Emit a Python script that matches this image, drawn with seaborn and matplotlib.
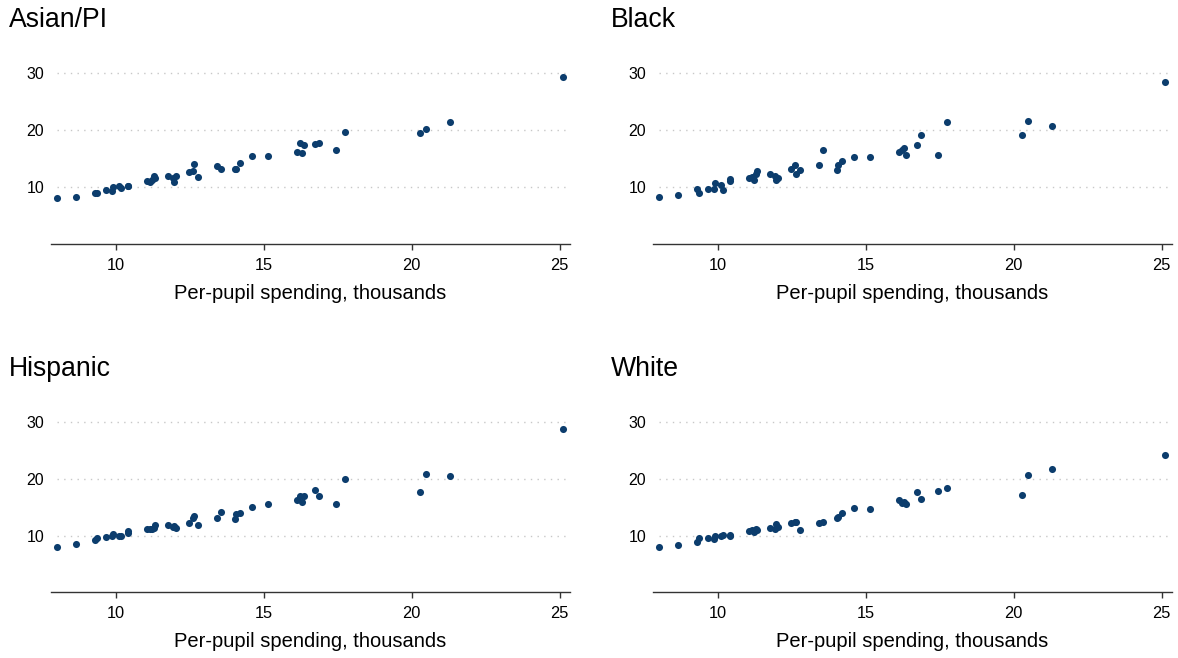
import numpy as np
import pandas as pd
import matplotlib
matplotlib.use("Agg")
import matplotlib.pyplot as plt
import seaborn as sns

# per-pupil spending (thousands), one entry per state, shared by all panels
spending = [8.0, 8.65, 9.3, 9.35, 9.65, 9.85, 9.88, 10.1, 10.17, 10.4, 10.42,
            11.03, 11.14, 11.2, 11.28, 11.31, 11.76, 11.91, 11.97, 12.01,
            12.46, 12.6, 12.65, 12.77, 13.4, 13.55, 14.01, 14.05, 14.2, 14.61,
            15.15, 16.12, 16.22, 16.3, 16.34, 16.74, 16.86, 17.45, 17.75,
            20.29, 20.49, 21.29, 25.1]

asian = [8.1, 8.2, 8.85, 9.0, 9.5, 9.3, 10.0, 10.1, 9.75, 10.1, 10.2,
         11.0, 10.9, 11.2, 11.9, 11.5, 11.9, 11.5, 10.9, 11.9,
         12.6, 12.8, 14.0, 11.7, 13.7, 13.2, 13.1, 13.2, 14.2, 15.4,
         15.5, 16.1, 17.65, 16.0, 17.3, 17.5, 17.8, 16.5, 19.6,
         19.5, 20.2, 21.4, 29.3]

black = [8.2, 8.5, 9.7, 8.95, 9.6, 9.6, 10.7, 10.3, 9.5, 11.0, 11.4,
         11.5, 11.75, 11.3, 12.25, 12.8, 12.2, 11.95, 11.3, 11.6,
         13.2, 13.85, 12.25, 12.95, 13.85, 16.5, 12.95, 13.85, 14.5, 15.3,
         15.35, 16.15, 16.5, 16.85, 15.6, 17.4, 19.05, 15.7, 21.4,
         19.2, 21.6, 20.7, 28.5]

hispanic = [8.05, 8.6, 9.25, 9.55, 9.75, 9.95, 10.3, 9.95, 10.0, 10.4, 10.8,
            11.1, 11.1, 11.2, 11.3, 11.9, 11.9, 11.6, 11.7, 11.35,
            12.3, 13.05, 13.4, 11.9, 13.1, 14.2, 12.95, 13.8, 14.0, 15.1,
            15.6, 16.3, 16.9, 16.0, 17.0, 18.05, 16.9, 15.5, 20.0,
            17.6, 20.85, 20.5, 28.75]

white = [7.95, 8.3, 8.95, 9.55, 9.55, 9.45, 9.85, 10.0, 10.05, 10.0, 10.1,
         10.8, 11.0, 10.55, 11.1, 11.0, 11.4, 11.1, 12.05, 11.6,
         12.2, 12.35, 12.35, 11.0, 12.3, 12.35, 13.05, 13.35, 13.95, 14.85,
         14.7, 16.25, 15.7, 16.0, 15.5, 17.75, 16.4, 17.9, 18.35,
         17.1, 20.75, 21.7, 24.2]

groups = ["Asian/PI", "Black", "Hispanic", "White"]
values = [asian, black, hispanic, white]
xticks = [10, 15, 20, 25]
yticks = [10, 20, 30]

df = pd.concat([pd.DataFrame({"spending": spending, "value": v, "group": g})
                for g, v in zip(groups, values)], ignore_index=True)

sns.set_style("white")
plt.rcParams["font.family"] = ["Liberation Sans", "DejaVu Sans"]
plt.rcParams["text.color"] = "black"
plt.rcParams["xtick.color"] = "black"
plt.rcParams["ytick.color"] = "black"
plt.rcParams["axes.labelcolor"] = "black"

W, H = 1178, 658
fig = plt.figure(figsize=(W / 100, H / 100), dpi=100)

# axes boxes in pixels
lefts = [51, 653, 51, 653]
bottoms = [243.7, 243.7, 592.4, 592.4]
title_pos = [(9, 20), (611, 20), (9, 369), (611, 369)]
aw, ah = 519, 176.1
dot = "#0c3d6d"

for i, g in enumerate(groups):
    ax = fig.add_axes([lefts[i] / W, 1 - bottoms[i] / H, aw / W, ah / H])
    sub = df[df["group"] == g]
    sns.scatterplot(data=sub, x="spending", y="value", ax=ax, color=dot,
                    s=26, linewidth=0, zorder=3)
    ax.set_xlim(7.8, 25.35)
    ax.set_ylim(0, 31)
    ax.set_xticks(xticks)
    ax.set_yticks(yticks)
    ax.grid(False)
    for yv in yticks:
        ax.axhline(yv, xmin=0.012, xmax=1, linestyle=(0, (1, 3.8)),
                   color="#c8c8c8", linewidth=1, zorder=1)
    for side in ["left", "right", "top"]:
        ax.spines[side].set_visible(False)
    ax.spines["bottom"].set_color("#333333")
    ax.spines["bottom"].set_linewidth(1)
    ax.tick_params(axis="x", bottom=True, length=4, width=1, color="#333333",
                   labelsize=11.8, pad=6)
    ax.tick_params(axis="y", left=False, length=0, labelsize=11.5, pad=5)
    ax.set_xlabel("Per-pupil spending, thousands", fontsize=14.5, labelpad=8)
    ax.set_ylabel("")
    tx, ty = title_pos[i]
    fig.text(tx / W, 1 - ty / H, g, fontsize=19.2, ha="left", va="center")

fig.savefig("out.png", dpi=100)
